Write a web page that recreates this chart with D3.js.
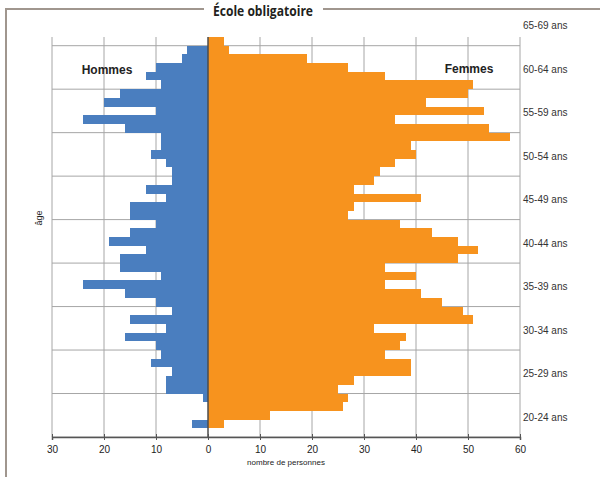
<!DOCTYPE html>
<html>
<head>
<meta charset="utf-8">
<script src="https://cdn.jsdelivr.net/npm/d3@7"></script>
<style>
  body { margin: 0; background: #fff; }
  svg { display: block; }
</style>
</head>
<body>
<script>
// ages, one bar each, from top to bottom
var ages = [64,63,62,61,60,59,58,57,56,55,54,53,52,51,50,49,48,47,46,45,44,43,42,41,40,
            39,38,37,36,35,34,33,32,31,30,29,28,27,26,25,24,23,22,21,20];
var hommes = [0,4,5,10,12,9,17,20,10,24,16,9,9,11,8,7,7,12,8,15,15,10,15,19,12,
              17,17,9,24,16,10,7,15,8,16,10,9,11,7,8,8,1,0,0,3];
var femmes = [3,4,19,27,34,51,50,42,53,36,54,58,39,40,36,33,32,28,41,28,27,37,43,48,52,
              48,34,40,34,41,45,49,51,32,38,37,34,39,39,28,25,27,26,12,3];
// age groups (label start age)
var groupStart = [65,60,55,50,45,40,35,30,25,20];
var groupLabels = ["65-69 ans","60-64 ans","55-59 ans","50-54 ans","45-49 ans",
                   "40-44 ans","35-39 ans","30-34 ans","25-29 ans","20-24 ans"];
var gridAges = [19,24,29,34,39,44,49,54,59,64];
var xTicks = [-30,-20,-10,0,10,20,30,40,50,60];

var W = 600, H = 477;
var BLUE = "#4a7ebf", ORANGE = "#f7931e";

var svg = d3.select("body").append("svg")
    .attr("width", W)
    .attr("height", H);

var x = d3.scaleLinear().domain([-30, 60]).range([52, 520]);
var y = d3.scaleLinear().domain([19, 65]).range([437, 37]);

// frame around the chart + title
var frame = "#a0968e";
svg.append("line").attr("x1", 6).attr("x2", 6).attr("y1", 9).attr("y2", H)
   .attr("stroke", frame).attr("stroke-width", 2);
svg.append("line").attr("x1", 5).attr("x2", 204).attr("y1", 9).attr("y2", 9)
   .attr("stroke", frame).attr("stroke-width", 2);
svg.append("line").attr("x1", 323).attr("x2", W).attr("y1", 9).attr("y2", 9)
   .attr("stroke", frame).attr("stroke-width", 2);
svg.append("text")
   .attr("x", 263).attr("y", 16)
   .attr("text-anchor", "middle")
   .attr("textLength", 100)
   .attr("lengthAdjust", "spacingAndGlyphs")
   .style("font-family", "'Open Sans', sans-serif")
   .style("font-weight", "bold")
   .style("font-size", "15px")
   .style("fill", "#231f20")
   .text("École obligatoire");

// grid
var grid = svg.append("g").attr("stroke", "#a6a6a6").attr("stroke-width", 1);
grid.selectAll("line.h").data(gridAges).enter().append("line")
    .attr("class", "h")
    .attr("x1", x(-30)).attr("x2", x(60))
    .attr("y1", function(d) { return y(d); })
    .attr("y2", function(d) { return y(d); });
grid.selectAll("line.v").data(xTicks.filter(function(d) { return d !== 0; })).enter().append("line")
    .attr("class", "v")
    .attr("x1", function(d) { return x(d); })
    .attr("x2", function(d) { return x(d); })
    .attr("y1", y(65)).attr("y2", y(19));

// bars
svg.append("g").selectAll("rect").data(ages).enter().append("rect")
    .attr("x", function(d, i) { return x(-hommes[i]); })
    .attr("y", function(d) { return y(d + 1); })
    .attr("width", function(d, i) { return x(0) - x(-hommes[i]); })
    .attr("height", function(d) { return y(d) - y(d + 1); })
    .attr("fill", BLUE)
    .attr("shape-rendering", "crispEdges");
svg.append("g").selectAll("rect").data(ages).enter().append("rect")
    .attr("x", x(0))
    .attr("y", function(d) { return y(d + 1); })
    .attr("width", function(d, i) { return x(femmes[i]) - x(0); })
    .attr("height", function(d) { return y(d) - y(d + 1); })
    .attr("fill", ORANGE)
    .attr("shape-rendering", "crispEdges");

// zero line
svg.append("line")
   .attr("x1", x(0)).attr("x2", x(0))
   .attr("y1", y(65)).attr("y2", y(19))
   .attr("stroke", "#4d4d4d").attr("stroke-width", 1.5);

// x axis
var xAxis = svg.append("g")
    .attr("transform", "translate(0," + y(19) + ")")
    .call(d3.axisBottom(x).tickValues(xTicks)
        .tickFormat(function(d) { return Math.abs(d); })
        .tickSize(3).tickPadding(6));
xAxis.select(".domain").attr("stroke", "#555").attr("stroke-width", 1.5);
xAxis.selectAll(".tick line").attr("stroke", "#555").attr("y1", -3);
xAxis.selectAll(".tick text")
    .style("font-family", "'Liberation Sans', Arial, sans-serif")
    .style("font-size", "10px")
    .style("fill", "#222");

svg.append("text")
   .attr("x", (x(-30) + x(60)) / 2).attr("y", 465)
   .attr("text-anchor", "middle")
   .style("font-family", "'Liberation Sans', Arial, sans-serif")
   .style("font-size", "8px")
   .style("fill", "#222")
   .text("nombre de personnes");

// age labels on the right
svg.append("g").selectAll("text").data(groupStart).enter().append("text")
    .attr("x", 523)
    .attr("y", function(d) { return y(d + 1.5) + 2; })
    .attr("dy", "0.35em")
    .style("font-family", "'Liberation Sans', Arial, sans-serif")
    .style("font-size", "10px")
    .style("fill", "#333")
    .text(function(d, i) { return groupLabels[i]; });

svg.append("text")
   .attr("transform", "translate(42,218) rotate(-90)")
   .attr("text-anchor", "middle")
   .style("font-family", "'Liberation Sans', Arial, sans-serif")
   .style("font-size", "9px")
   .style("fill", "#222")
   .text("âge");

// legend labels
svg.append("text").attr("x", 107).attr("y", 70).attr("dy", "0.35em")
   .attr("text-anchor", "middle")
   .style("font-family", "'Liberation Sans', Arial, sans-serif")
   .style("font-weight", "bold").style("font-size", "12px").style("fill", "#222")
   .text("Hommes");
svg.append("text").attr("x", 469).attr("y", 69).attr("dy", "0.35em")
   .attr("text-anchor", "middle")
   .style("font-family", "'Liberation Sans', Arial, sans-serif")
   .style("font-weight", "bold").style("font-size", "12px").style("fill", "#222")
   .text("Femmes");
</script>
</body>
</html>
